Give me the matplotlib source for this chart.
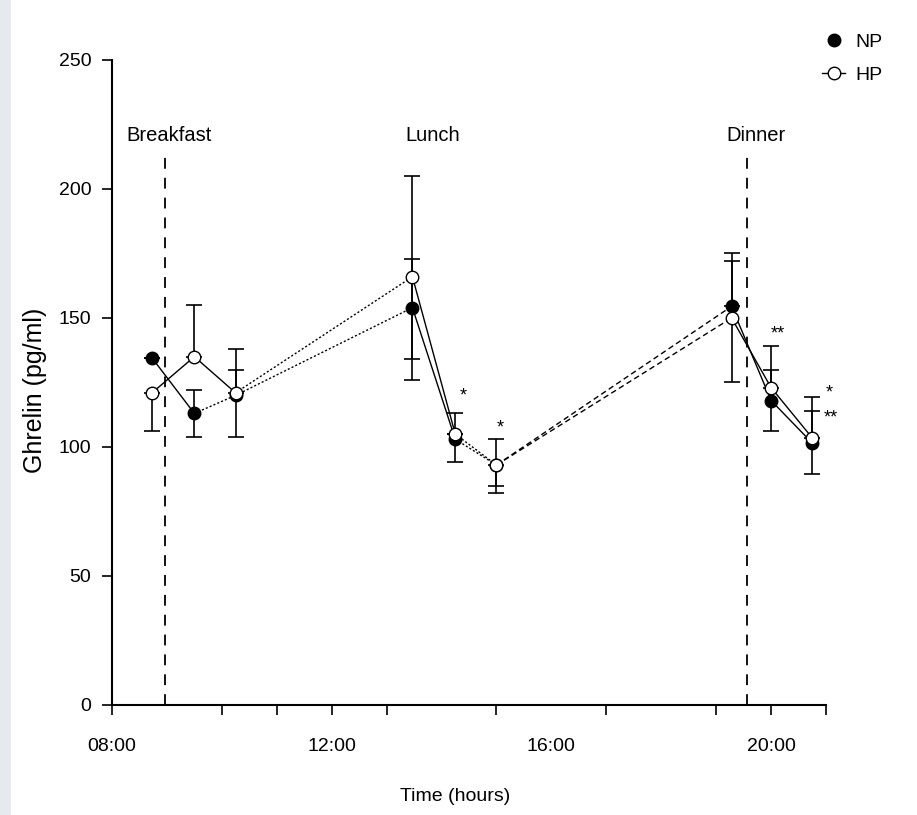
import matplotlib
matplotlib.use("Agg")
import matplotlib.pyplot as plt
from matplotlib.lines import Line2D
from matplotlib.patches import Rectangle

plt.rcParams['font.family'] = ['Liberation Sans', 'DejaVu Sans']

# sampling times (decimal hours)
times = [8.73, 9.5, 10.25, 13.47, 14.25, 15.0, 19.28, 20.0, 20.75]

# ghrelin, pg/ml
np_vals = [134.5, 113, 120, 154, 103, 93, 154.5, 118, 101.5]
hp_vals = [121, 135, 121, 166, 105, 93, 150, 123, 103.5]
np_err_lo = [0, 9, 16, 20, 9, 8, 0, 12, 12]
np_err_hi = [0, 9, 10, 19, 10, 0, 20.5, 12, 12.5]
hp_err_lo = [15, 0, 0, 40, 0, 11, 25, 0, 0]
hp_err_hi = [0, 20, 17, 39, 0, 10, 22, 16, 16]

# line style for each segment between consecutive samples
np_seg_styles = ['-', ':', ':', '-', ':', '--', '-', '-']
hp_seg_styles = ['-', '-', ':', '-', ':', '--', '-', '-']

meals = ['Breakfast', 'Lunch', 'Dinner']
meal_label_x = [8.255, 13.34, 19.18]
meal_lines = [8.97, 19.57]

# significance marks (x, y of the mark centre, text)
stars = [(14.39, 122, '*'), (15.07, 109.7, '*'), (20.13, 146, '**'),
         (21.06, 123, '*'), (21.08, 113.6, '**')]

xticks = [8, 10, 11, 12, 13, 15, 16, 17, 19, 20, 21]
xlabels = {8: '08:00', 12: '12:00', 16: '16:00', 20: '20:00'}
yticks = [0, 50, 100, 150, 200, 250]

fig = plt.figure(figsize=(9.17, 8.15), dpi=100)
ax = fig.add_axes([0.1221, 0.135, 0.7787, 0.7914])

# faint scan strip on the left edge
fig.patches.append(Rectangle((0, 0), 0.012, 1, transform=fig.transFigure,
                             fc='#e6eaee', ec='none'))

style_map = {'-': '-', ':': (0, (1.5, 1.5)), '--': (0, (4, 2.5))}

for vals, segs in [(np_vals, np_seg_styles), (hp_vals, hp_seg_styles)]:
    for i, s in enumerate(segs):
        ax.plot(times[i:i + 2], vals[i:i + 2], color='black', lw=1.0,
                linestyle=style_map[s], zorder=2)

ax.errorbar(times, np_vals, yerr=[np_err_lo, np_err_hi], fmt='none',
            ecolor='black', elinewidth=1.2, capsize=6, capthick=1.2, zorder=3)
ax.errorbar(times, hp_vals, yerr=[hp_err_lo, hp_err_hi], fmt='none',
            ecolor='black', elinewidth=1.2, capsize=6, capthick=1.2, zorder=3)

ax.plot(times, np_vals, 'o', ms=9, mfc='black', mec='black', zorder=4)
ax.plot(times, hp_vals, 'o', ms=9, mfc='white', mec='black', mew=1.0, zorder=5)

for x in meal_lines:
    ax.plot([x, x], [0, 214], color='black', lw=1.3,
            linestyle=(0, (6, 5)), zorder=1)

for name, x in zip(meals, meal_label_x):
    ax.text(x, 218.5, name, fontsize=14.5, ha='left', va='baseline')

# asterisk ink sits well above the baseline, so shift the baseline down
for x, y, s in stars:
    ax.text(x, y - 4, s, fontsize=13, ha='center', va='baseline')

ax.set_xlim(8, 21)
ax.set_ylim(0, 250)
ax.set_xticks(xticks)
ax.set_xticklabels([xlabels.get(t, '') for t in xticks])
ax.set_yticks(yticks)
ax.tick_params(axis='both', which='major', direction='out', length=7,
               width=1.2, labelsize=14)
ax.tick_params(axis='x', pad=17)
ax.tick_params(axis='y', pad=8)
# no tick mark at 16:00 in the original, only the label
ax.xaxis.get_major_ticks()[xticks.index(16)].tick1line.set_visible(False)

for side in ['top', 'right']:
    ax.spines[side].set_visible(False)
for side in ['left', 'bottom']:
    ax.spines[side].set_linewidth(1.5)

ax.set_ylabel('Ghrelin (pg/ml)', fontsize=18)
ax.yaxis.set_label_coords((47 - 112) / 714, (705 - 390) / 645)
ax.set_xlabel('Time (hours)', fontsize=14)
ax.xaxis.set_label_coords((455 - 112) / 714, -0.128)

handles = [Line2D([], [], marker='o', ms=9, color='black', lw=0, mfc='black'),
           Line2D([], [], marker='o', ms=9, color='black', lw=1.0, mfc='white')]
fig.legend(handles, ['NP', 'HP'], loc='upper left',
           bbox_to_anchor=(822 / 917, 1 - 33 / 815), frameon=False, fontsize=14,
           handlelength=1.2, handletextpad=0.5, labelspacing=0.8,
           borderpad=0, borderaxespad=0)

fig.savefig('out.png', dpi=100)
